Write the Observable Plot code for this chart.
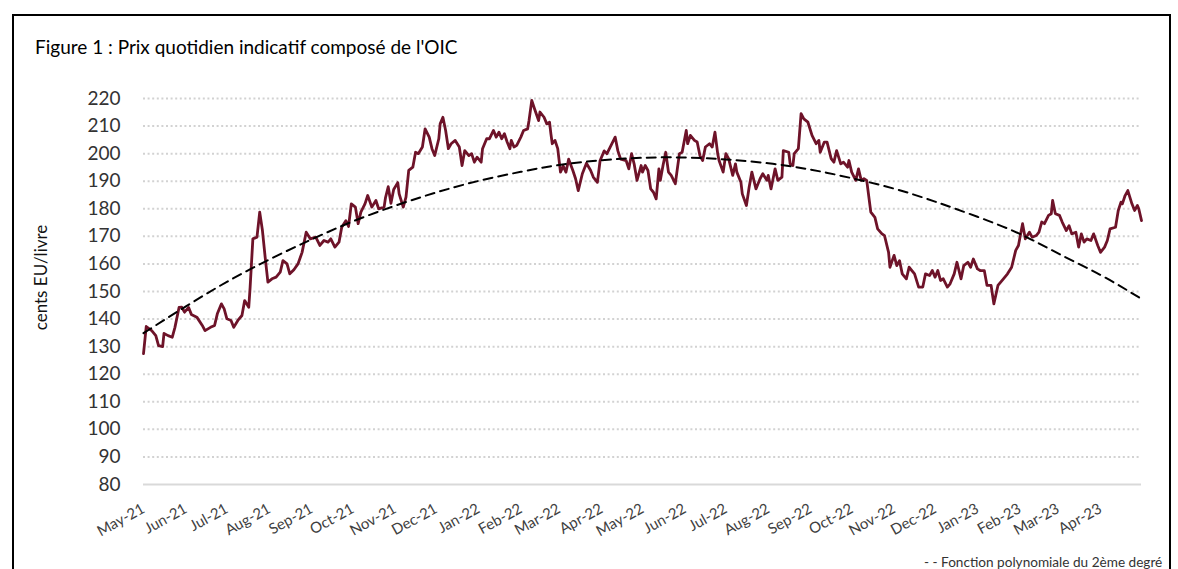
<!DOCTYPE html>
<html><head><meta charset="utf-8">
<script src="https://cdn.jsdelivr.net/npm/d3@7"></script>
<script src="https://cdn.jsdelivr.net/npm/@observablehq/plot@0.6"></script>
<style>
body{margin:0;background:#fff;overflow:hidden;}
#wrap{position:relative;width:1178px;height:569px;overflow:hidden;font-family:Lato,sans-serif;}
#frame{position:absolute;left:12px;top:14px;width:1159px;height:600px;border:2px solid #000;box-sizing:border-box;}
#title{position:absolute;left:35px;top:35px;font-size:19px;color:#000;white-space:nowrap;}
#legend{position:absolute;left:924px;top:554px;font-size:13.6px;line-height:16px;color:#333;white-space:nowrap;}
#chart{position:absolute;left:0;top:0;}
</style></head>
<body><div id="wrap"><div id="frame"></div><div id="title">Figure 1 : Prix quotidien indicatif composé de l'OIC</div><div id="chart"></div><div id="legend">- - Fonction polynomiale du 2ème degré</div></div>
<script>
const startDate = "2021-05-01";
const endDate = "2023-05-01";
// days since startDate
const days = [0,2,6,9,11,14,15,18,21,23,26,28,30,33,35,39,43,45,49,52,54,57,59,61,64,66,69,72,74,77,78,80,83,85,87,89,91,94,97,100,102,105,107,110,113,116,119,122,126,129,132,135,137,140,143,145,148,150,152,155,157,159,162,164,167,170,172,176,177,179,181,183,186,187,190,192,194,197,199,201,204,206,209,211,213,216,217,219,221,223,225,228,231,233,235,238,240,242,244,247,248,251,253,256,258,260,262,264,266,268,269,271,273,276,278,281,282,284,286,289,290,293,295,297,298,299,301,303,305,307,309,311,314,316,318,321,324,327,329,332,334,337,339,342,345,347,349,353,355,357,359,361,364,365,367,369,371,373,375,377,378,380,382,384,386,389,392,394,397,398,400,403,405,407,409,411,414,416,418,420,421,424,426,428,431,433,434,437,438,441,443,445,448,451,453,456,457,459,462,464,467,468,472,473,475,476,479,481,483,486,489,492,494,495,498,500,503,505,507,510,512,515,516,518,521,523,525,527,529,532,535,537,540,542,545,546,549,551,553,555,558,560,564,567,570,572,575,577,579,581,583,585,588,590,593,595,598,600,603,605,607,610,612,615,617,620,622,625,627,629,632,635,638,640,643,645,648,650,653,655,657,659,662,664,665,667,670,672,675,677,679,682,684,686,688,690,693,695,698,700,703,705,707,711,713,715,716,718,720,723,725,727,728,730];
const prices = [127.5,137.3,135.8,134,130.4,130,134.8,134,133.4,137,144.2,144.3,142.5,144.2,141.7,140.7,137.7,135.8,137,137.7,141.9,145.5,143.7,140.1,139.5,137,139.5,141.3,146.7,144.3,151.6,169.1,169.7,178.8,172.1,162.4,153.4,154.6,155.2,157,161.2,160,156.4,157.9,160,164.2,171.5,169.1,169.7,166.7,168.5,167.9,169.1,166.1,167.9,173.3,175.7,173.6,181.8,180.6,174.6,178.8,181.8,184.8,180.6,183,180,180.6,184,188,182,187,189.5,185.4,180.6,184.2,193.9,195.1,200.5,200,202.4,209,206,201.8,199.3,205.4,210.8,213.2,208.4,201.8,203.6,204.8,202.4,195.7,201.1,199.3,200,196.9,198.7,196.9,201.8,205.4,205.4,208.4,206,207.8,205.4,207.2,204.2,201.8,204.8,202.4,203,206,208.4,209,212,219.3,216.3,212,215.1,213.2,210.8,211.4,207.2,203.6,204.8,201.8,193.3,195.5,193.3,198,194,191,186.6,192.7,196.5,194,191.5,189.6,197.5,201,200,203,206,201,198,197.5,194.5,200,196,190.3,195.7,193.3,195.7,193.9,187.2,186,183.6,194.5,190.3,195.7,200.5,193.3,192.1,189.1,200,200.5,208.4,203.6,206.6,204.8,204.2,199.3,197.5,202.4,203.6,202.4,207.8,200,197.5,193.3,200,198.2,192.1,196.3,193.3,189.6,185.4,181.2,187.8,193.3,187.2,190.9,192.7,190.3,192.1,187.2,194.5,190.3,191.5,201.1,200.5,196.3,195.7,200,201.8,214.5,212.6,211.4,206.6,203.6,204.8,200.5,204.2,204.2,198.2,196.9,201.1,196.3,196.9,195.1,197.5,193.3,190.3,194.5,190.3,190.9,190.3,178.8,176.9,172.7,171,170.3,164.2,158.8,163.1,159.4,161.2,156.4,154.6,158.8,156.4,151.6,151.6,156.4,155.8,157.6,155.2,157.6,154,154.6,151.6,152.8,156.4,160.6,154.6,159.4,160.6,158.8,161.8,158.2,157.6,157.6,152.2,152.2,145.5,152.2,153.4,154.6,156.4,158.8,164.9,166.7,174.6,169.1,171.5,169.7,170.3,171.5,175.2,174.6,177.6,178.2,183,178.2,177.6,175.2,172.1,173.9,170.9,171.5,166.1,170.9,167.9,169.1,168.5,170.9,166.7,164.2,166.1,168.5,172.7,173.3,179.4,182.4,181.8,184.8,186.6,181.8,179.4,181.2,180,175.7];
// 2nd-degree polynomial trendline, read at each month start (May-21 ... May-23)
const trendValues = [134.9,144.6,153.5,161.6,168.9,175.4,181.1,185.9,190.1,193.4,195.9,197.6,198.5,198.6,197.9,196.5,194.2,191.1,187.3,182.6,177.1,170.9,163.8,156.0,147.3];
const yTicks = [80,90,100,110,120,130,140,150,160,170,180,190,200,210,220];
const xTickLabels = ["May-21","Jun-21","Jul-21","Aug-21","Sep-21","Oct-21","Nov-21","Dec-21","Jan-22","Feb-22","Mar-22","Apr-22","May-22","Jun-22","Jul-22","Aug-22","Sep-22","Oct-22","Nov-22","Dec-22","Jan-23","Feb-23","Mar-23","Apr-23"];

const parse = d3.utcParse("%Y-%m-%d");
const t0 = parse(startDate), t1 = parse(endDate);
const series = days.map((d, i) => ({date: d3.utcDay.offset(t0, d), price: prices[i]}));
const tickDates = xTickLabels.map(s => d3.utcParse("%b-%y")(s));
const trend = trendValues.map((v, i) => ({date: d3.utcMonth.offset(t0, i), value: v}));

const chart = Plot.plot({
  width: 1178, height: 569,
  marginLeft: 143, marginRight: 37, marginTop: 98, marginBottom: 85,
  x: {type: "utc", domain: [t0, t1]},
  y: {domain: [80, 220]},
  style: {fontFamily: "Lato, sans-serif", background: "transparent", overflow: "visible"},
  marks: [
    Plot.ruleY(yTicks.filter(v => v > 80), {stroke: "#d2d2d2", strokeWidth: 2, strokeDasharray: "2,2.6"}),
    Plot.ruleY([80], {stroke: "#d9d9d9", strokeWidth: 2}),
    Plot.axisY({ticks: yTicks, tickSize: 0, tickPadding: 23, fontSize: 19, fill: "#333", label: null}),
    Plot.axisX({ticks: tickDates, tickSize: 0, tickPadding: 23, tickRotate: -29, fontSize: 15, fill: "#404040", tickFormat: d3.utcFormat("%b-%y"), label: null}),
    Plot.text(["cents EU/livre"], {frameAnchor: "left", dx: -102, dy: -14, rotate: -90, textAnchor: "middle", fontSize: 17, fill: "#111"}),
    Plot.line(series, {x: "date", y: "price", stroke: "#6e1329", strokeWidth: 2.8, strokeLinejoin: "round"}),
    Plot.line(trend, {x: "date", y: "value", curve: "natural", stroke: "#000", strokeWidth: 2, strokeDasharray: "9,6"})
  ]
});
document.getElementById("chart").appendChild(chart);
</script>
</body></html>
